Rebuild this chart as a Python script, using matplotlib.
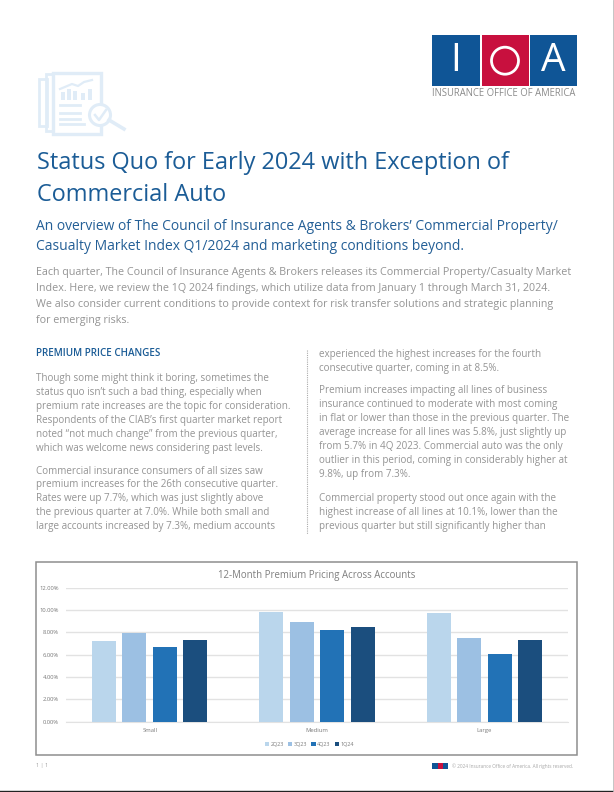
"""
Premium pricing page: text layout plus the grouped bar chart.
"""

import numpy as np
import matplotlib
matplotlib.use('Agg')
import matplotlib.pyplot as plt
from matplotlib.patches import Rectangle, Circle

W, H = 614, 792
plt.rcParams['font.family'] = ['Open Sans', 'DejaVu Sans']

accounts = ['Small', 'Medium', 'Large']
quarters = ['2Q23', '3Q23', '4Q23', '1Q24']
q2_23 = [7.2, 9.8, 9.7]
q3_23 = [7.9, 8.9, 7.5]
q4_23 = [6.7, 8.2, 6.1]
q1_24 = [7.3, 8.5, 7.3]
y_ticks = [0, 2, 4, 6, 8, 10, 12]
bar_colors = ['#BAD6EC', '#9CC0E3', '#2272B6', '#1B4E7E']

title_lines = ['Status Quo for Early 2024 with Exception of', 'Commercial Auto']
subtitle_lines = [
    'An overview of The Council of Insurance Agents & Brokers\u2019 Commercial Property/',
    'Casualty Market Index Q1/2024 and marketing conditions beyond.',
]
intro_lines = [
    'Each quarter, The Council of Insurance Agents & Brokers releases its Commercial Property/Casualty Market',
    'Index. Here, we review the 1Q 2024 findings, which utilize data from January 1 through March 31, 2024.',
    'We also consider current conditions to provide context for risk transfer solutions and strategic planning',
    'for emerging risks.',
]
left_lines = [
    (378, 'Though some might think it boring, sometimes the'),
    (392, 'status quo isn\u2019t such a bad thing, especially when'),
    (406, 'premium rate increases are the topic for consideration.'),
    (420, 'Respondents of the CIAB\u2019s first quarter market report'),
    (434, 'noted \u201cnot much change\u201d from the previous quarter,'),
    (448, 'which was welcome news considering past levels.'),
    (471, 'Commercial insurance consumers of all sizes saw'),
    (485, 'premium increases for the 26th consecutive quarter.'),
    (499, 'Rates were up 7.7%, which was just slightly above'),
    (513, 'the previous quarter at 7.0%. While both small and'),
    (527, 'large accounts increased by 7.3%, medium accounts'),
]
right_lines = [
    (354, 'experienced the highest increases for the fourth'),
    (368, 'consecutive quarter, coming in at 8.5%.'),
    (391, 'Premium increases impacting all lines of business'),
    (405, 'insurance continued to moderate with most coming'),
    (419, 'in flat or lower than those in the previous quarter. The'),
    (433, 'average increase for all lines was 5.8%, just slightly up'),
    (447, 'from 5.7% in 4Q 2023. Commercial auto was the only'),
    (461, 'outlier in this period, coming in considerably higher at'),
    (475, '9.8%, up from 7.3%.'),
    (498, 'Commercial property stood out once again with the'),
    (512, 'highest increase of all lines at 10.1%, lower than the'),
    (526, 'previous quarter but still significantly higher than'),
]

BLUE = '#1B5C96'
BODY = '#949494'
ICON = '#E0ECF7'

fig = plt.figure(figsize=(W / 100, H / 100), dpi=100, facecolor='white')

# page layer in pixel coordinates, y pointing down
page = fig.add_axes([0, 0, 1, 1])
page.set_xlim(0, W)
page.set_ylim(H, 0)
page.axis('off')


def put(x, y, s, size, color=BODY, **kw):
    page.text(x, y, s, fontsize=size, color=color, va='center', **kw)


# logo
for x0, x1, c in [(432, 480, '#0F5596'), (482, 529, '#C8103E'), (530, 577, '#0F5596')]:
    page.add_patch(Rectangle((x0, 35), x1 - x0, 51, color=c, lw=0))
put(455.5, 61, 'I', 28, 'white', ha='center')
page.add_patch(Circle((505, 60.7), 13.5, fill=False, ec='white', lw=2))
put(553.5, 61, 'A', 28, 'white', ha='center')
put(432, 94, 'INSURANCE OFFICE OF AMERICA', 6.85, '#8A8A8A')

# report icon
page.add_patch(Rectangle((38.5, 79), 8, 47, fill=False, ec=ICON, lw=2))
page.add_patch(Rectangle((46, 73.5), 8, 57, fill=False, ec=ICON, lw=2))
page.add_patch(Rectangle((53, 73), 48, 61, fc='white', ec=ICON, lw=2.4))
for bx, bh in [(61, 8), (67, 11), (73, 9), (81, 7), (88, 11)]:
    page.add_patch(Rectangle((bx, 100 - bh), 4, bh, color=ICON, lw=0))
page.plot([60, 72, 78, 84, 92], [89, 84, 86, 82, 80], color=ICON, lw=1.6)
for ly, lx in [(105, 80), (113, 80), (119, 80), (124, 84)]:
    page.plot([60, lx], [ly, ly], color=ICON, lw=2)
page.add_patch(Circle((100, 115), 10.5, fc='white', ec=ICON, lw=2.2))
page.plot([95, 99, 106], [115, 120, 110], color=ICON, lw=1.8)
page.plot([109, 124], [120, 129], color=ICON, lw=2.6)

# heading block
for y, s in zip([163, 195], title_lines):
    put(37, y, s, 16.9, BLUE)
for y, s in zip([227, 247], subtitle_lines):
    put(36, y, s, 10.0, '#245F96')
for y, s in zip([273, 289, 304, 320], intro_lines):
    put(36, y, s, 7.75)

# two columns
put(36, 354, 'PREMIUM PRICE CHANGES', 7.15, BLUE, fontweight='semibold')
for y, s in left_lines:
    put(36, y, s, 7.1)
for y, s in right_lines:
    put(319, y, s, 7.15)
page.plot([306.5, 306.5], [350, 534], color='#AAAAAA', lw=0.8, ls=(0, (1, 1)))

# chart frame
page.add_patch(Rectangle((35.5, 561.5), 541.5, 193.5, fill=False, ec='#8E8E8E', lw=1.1))

# footer
put(36, 766, '1 | 1', 4, '#A0A0A0')
page.add_patch(Rectangle((432, 763), 16, 5.5, color='#0F5596', lw=0))
page.add_patch(Rectangle((438, 763), 5, 5.5, color='#C8103E', lw=0))
put(451.5, 766, '\u00a9 2024 Insurance Office of America. All rights reserved.', 3.45, '#A8A8A8')

# dark scan edge
page.plot([0, W], [790.5, 790.5], color='#222222', lw=1)
page.plot([612.5, 612.5], [0, H], color='#BBBBBB', lw=0.6)

# chart
ax = fig.add_axes([66 / W, 1 - 721.7 / H, 502 / W, 134 / H])
ax.patch.set_alpha(0)
x = np.arange(len(accounts))
step = 0.182
for i, (vals, q) in enumerate(zip([q2_23, q3_23, q4_23, q1_24], quarters)):
    ax.bar(x + (i - 1.5) * step, vals, width=0.144, color=bar_colors[i], label=q, zorder=3)

ax.set_xlim(-0.5, 2.5)
ax.set_ylim(0, 12)
ax.set_yticks(y_ticks)
ax.set_yticklabels([f'{v:.2f}%' for v in y_ticks], fontsize=4.2, color='#7A7A7A')
ax.set_xticks(x)
ax.set_xticklabels(accounts, fontsize=4.2, color='#7A7A7A')
ax.tick_params(length=0, pad=5)
ax.tick_params(axis='x', pad=4.5)
ax.grid(axis='y', color='#E2E2E2', lw=1, zorder=0)
ax.set_axisbelow(True)
for s in ax.spines.values():
    s.set_visible(False)
ax.spines['bottom'].set_visible(True)
ax.spines['bottom'].set_color('#E2E2E2')
ax.set_title('12-Month Premium Pricing Across Accounts', fontsize=6.95, color='#7F7F7F', y=1.076, pad=0)
ax.legend(loc='center', bbox_to_anchor=(0.485, -0.167), ncol=4, frameon=False, fontsize=3.9,
          labelcolor='#7A7A7A', handlelength=0.8, handleheight=0.8, handletextpad=0.3, columnspacing=0.7)

fig.savefig('out.png', dpi=100)
